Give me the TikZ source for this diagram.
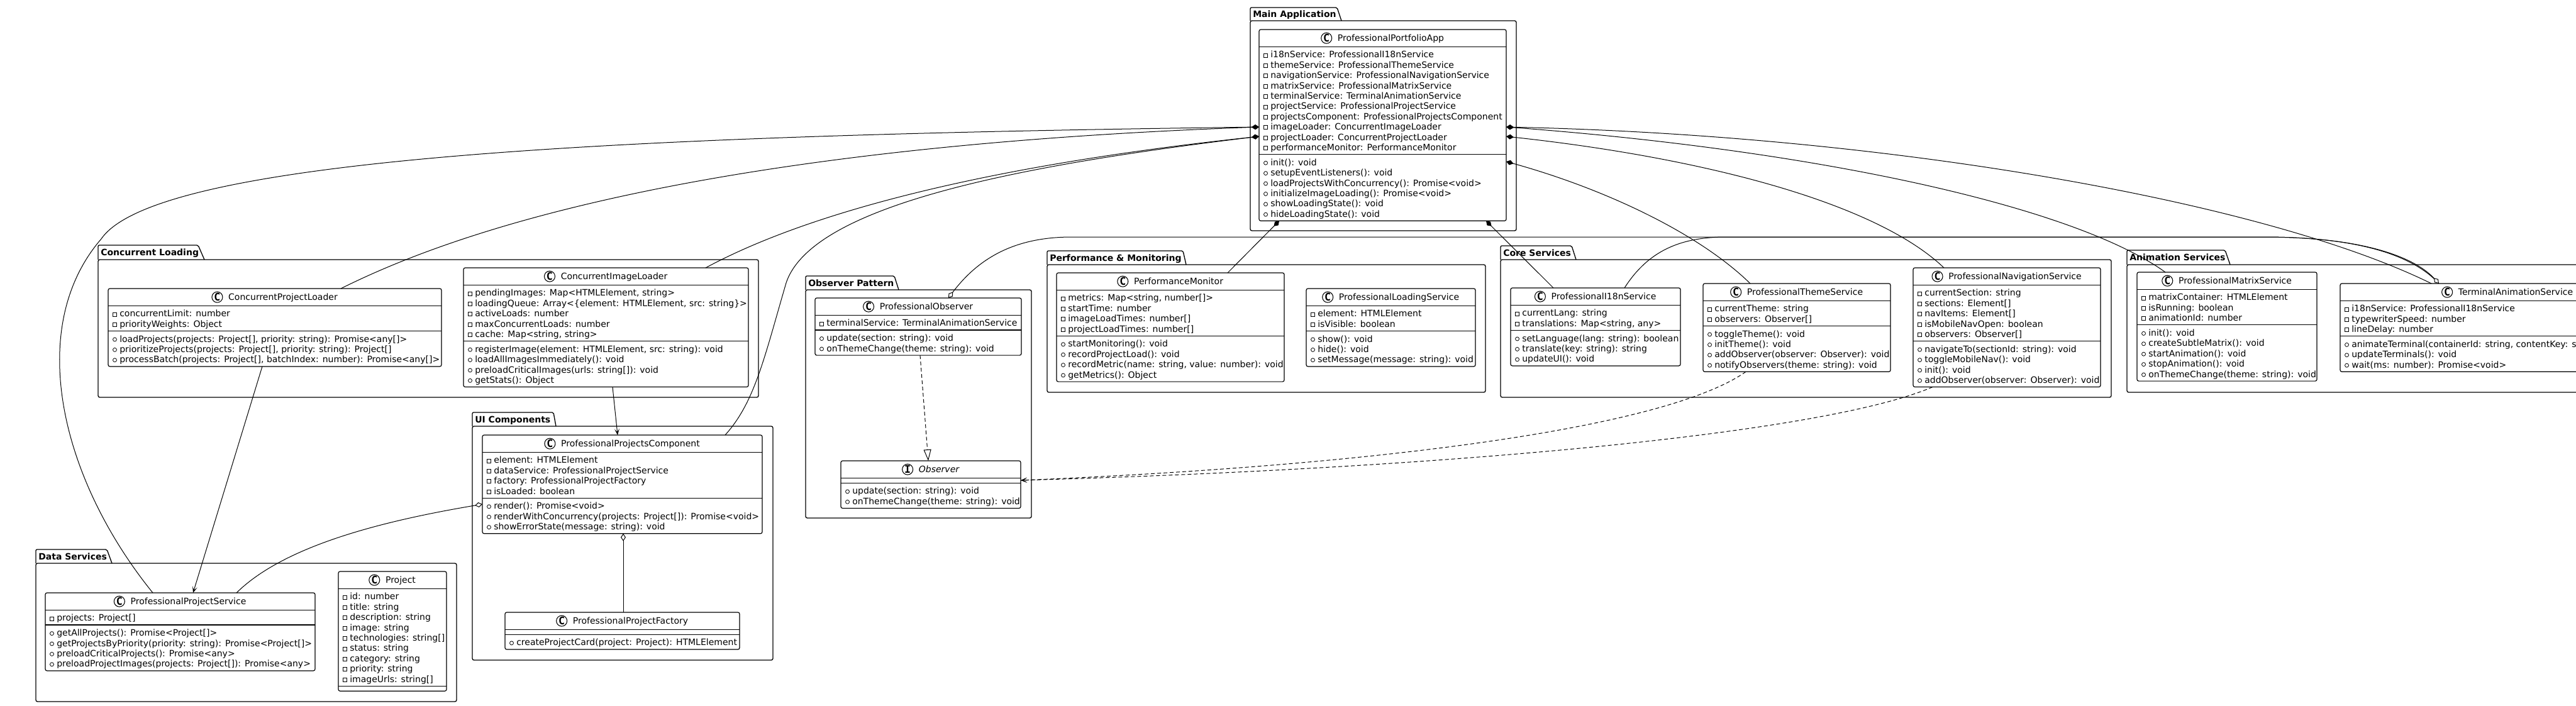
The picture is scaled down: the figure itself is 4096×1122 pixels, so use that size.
\documentclass[tikz,border=0pt]{standalone}
\usepackage{fontspec}
\setmainfont{DejaVu Sans}
\newfontfamily\circfont{DejaVu Sans Mono}
\usetikzlibrary{arrows.meta,calc}
\tikzset{
  clsbox/.style={draw, line width=0.9pt, rounded corners=2pt, fill=white, inner sep=0pt, outer sep=0pt},
  clsline/.style={line width=0.9pt},
  pkgbox/.style={draw, line width=1pt, rounded corners=2pt, inner sep=0pt, outer sep=0pt},
  pkgline/.style={line width=1pt, rounded corners=1.5pt},
  pkgtitle/.style={inner sep=0pt, anchor=base west, font=\bfseries\fontsize{10.5}{12}\selectfont},
  titletext/.style={inner sep=0pt, anchor=base, font=\fontsize{10.5}{12}\selectfont},
  rowtext/.style={inner sep=0pt, anchor=base west, font=\fontsize{10.5}{12}\selectfont},
  circ/.style={circle, draw, line width=0.8pt, fill=white, minimum size=12.75pt, inner sep=0pt, text height=9.1pt, text depth=0pt, font=\circfont\bfseries\fontsize{12.5}{12.5}\selectfont},
  icon/.style={line width=0.6pt},
  conn/.style={line width=0.75pt},
  comp/.style={conn, arrows={Diamond[length=9pt,width=6pt]-}},
  agg/.style={conn, arrows={Diamond[length=9pt,width=6pt,fill=white]-}},
  assoc/.style={conn, arrows={-Stealth[length=7.5pt,width=6pt,inset=4pt]}},
  dep/.style={conn, dash pattern=on 4.5pt off 3pt, arrows={-Stealth[length=7.5pt,width=6pt,inset=4pt]}},
  real/.style={conn, dash pattern=on 4.5pt off 3pt, arrows={-Triangle[length=13.5pt,width=9pt,fill=white]}},
}
% package: name, L, tabTop, tabRtop, tabRbot, bodyTop, R, B, title
\newcommand\umlpkg[9]{%
  \draw[pkgline] (#2,#6) -- (#2,#3) -- (#4,#3) -- (#5,#6);
  \pgfmathsetmacro\pkW{(#7-#2)*0.75}%
  \pgfmathsetmacro\pkH{(#8-#6)*0.75}%
  \node[pkgbox, minimum width=\pkW pt, minimum height=\pkH pt, anchor=north west] (#1) at (#2,#6) {};
  \node[pkgtitle] (#1-t) at (#2+4,{(#3+#6)/2+5}) {#9};
}
% class: name, L, T, R, nA, nM, letter, title
\newcommand\umlcls[8]{%
  \pgfmathsetmacro\cbA{#5==0 ? 8 : 7.3+16.4*#5}%
  \pgfmathsetmacro\cbM{#6==0 ? 8 : 7.3+16.4*#6}%
  \pgfmathsetmacro\cbH{(27.3+\cbA+\cbM)*0.75}%
  \pgfmathsetmacro\cbW{(#4-#2)*0.75}%
  \node[clsbox, minimum width=\cbW pt, minimum height=\cbH pt, anchor=north west] (#1) at (#2,#3) {};
  \pgfmathsetmacro\cbHy{#3+27.3}%
  \pgfmathsetmacro\cbSy{#3+27.3+\cbA}%
  \draw[clsline] (#2,\cbHy) -- (#4,\cbHy);
  \draw[clsline] (#2,\cbSy) -- (#4,\cbSy);
  \node[titletext] (#1-t) at ({(#2+#4)/2+13},{#3+13.65+5}) {#8};
  \node[circ] (#1-c) at ($(#1-t.base west)+(-17.5,-5)$) {#7};
}
% attributes: name, L, T, list
\newcommand\umlattrs[4]{%
  \foreach \t [count=\i from 0] in {#4} {%
    \pgfmathsetmacro\ry{#3+27.3+12.6+16.4*\i}%
    \draw[icon] (#2+7.5,\ry-2) rectangle (#2+13.5,\ry+4);
    \node[rowtext] (#1-a\i) at (#2+18,\ry+5) {\t};
  }%
}
% methods: name, L, T, nA, list
\newcommand\umlmeths[5]{%
  \pgfmathsetmacro\mstart{#3+27.3+(#4==0 ? 8 : 7.3+16.4*#4)}%
  \foreach \t [count=\i from 0] in {#5} {%
    \pgfmathsetmacro\ry{\mstart+12.6+16.4*\i}%
    \draw[icon] (#2+10.5,\ry+1) circle[radius=3];
    \node[rowtext] (#1-m\i) at (#2+18,\ry+5) {\t};
  }%
}
\begin{document}
\begin{tikzpicture}[x=0.75pt, y=-0.75pt]
\useasboundingbox (0,0) rectangle (4096,1122);
\fill[white] (0,0) rectangle (4096,1122);
\clip (0,0) rectangle (4096,1122);

% ---------- packages ----------
\umlpkg{pmain}{1988}{12}{2126}{2133}{33}{2411}{367}{Main Application}
\umlpkg{pconc}{156}{390}{315}{325}{413}{1206}{632}{Concurrent Loading}
\umlpkg{pdata}{57}{874}{170}{178}{896}{726}{1116}{Data Services}
\umlpkg{pui}{751}{656}{880}{884}{678}{1229}{1050}{UI Components}
\umlpkg{pobs}{1281}{439}{1422}{1429}{461}{1640}{824}{Observer Pattern}
\umlpkg{pperf}{1665}{399}{1881}{1886}{421}{2362}{624}{Performance \& Monitoring}
\umlpkg{pcore}{2386}{391}{2499}{2506}{413}{3357}{632}{Core Services}
\umlpkg{panim}{3382}{398}{3538}{3546}{421}{4270}{624}{Animation Services}

% ---------- classes ----------
\umlcls{app}{2002}{47}{2395}{10}{6}{C}{ProfessionalPortfolioApp}
\umlattrs{app}{2002}{47}{{i18nService: ProfessionalI18nService},{themeService: ProfessionalThemeService},{navigationService: ProfessionalNavigationService},{matrixService: ProfessionalMatrixService},{terminalService: TerminalAnimationService},{projectService: ProfessionalProjectService},{projectsComponent: ProfessionalProjectsComponent},{imageLoader: ConcurrentImageLoader},{projectLoader: ConcurrentProjectLoader},{performanceMonitor: PerformanceMonitor}}
\umlmeths{app}{2002}{47}{10}{{init(): void},{setupEventListeners(): void},{loadProjectsWithConcurrency(): Promise<void>},{initializeImageLoading(): Promise<void>},{showLoadingState(): void},{hideLoadingState(): void}}

\umlcls{plo}{172}{459}{702}{2}{3}{C}{ConcurrentProjectLoader}
\umlattrs{plo}{172}{459}{{concurrentLimit: number},{priorityWeights: Object}}
\umlmeths{plo}{172}{459}{2}{{loadProjects(projects: Project[], priority: string): Promise<any[]>},{prioritizeProjects(projects: Project[], priority: string): Project[]},{processBatch(projects: Project[], batchIndex: number): Promise<any[]>}}

\umlcls{ilo}{737}{426}{1190}{5}{4}{C}{ConcurrentImageLoader}
\umlattrs{ilo}{737}{426}{{pendingImages: Map<HTMLElement, string>},{loadingQueue: Array<\{element: HTMLElement, src: string\}>},{activeLoads: number},{maxConcurrentLoads: number},{cache: Map<string, string>}}
\umlmeths{ilo}{737}{426}{5}{{registerImage(element: HTMLElement, src: string): void},{loadAllImagesImmediately(): void},{preloadCriticalImages(urls: string[]): void},{getStats(): Object}}

\umlcls{pps}{72}{943}{501}{1}{4}{C}{ProfessionalProjectService}
\umlattrs{pps}{72}{943}{{projects: Project[]}}
\umlmeths{pps}{72}{943}{1}{{getAllProjects(): Promise<Project[]>},{getProjectsByPriority(priority: string): Promise<Project[]>},{preloadCriticalProjects(): Promise<any>},{preloadProjectImages(projects: Project[]): Promise<any>}}

\umlcls{proj}{538}{909}{710}{9}{0}{C}{Project}
\umlattrs{proj}{538}{909}{{id: number},{title: string},{description: string},{image: string},{technologies: string[]},{status: string},{category: string},{priority: string},{imageUrls: string[]}}

\umlcls{ppc}{767}{692}{1212}{4}{3}{C}{ProfessionalProjectsComponent}
\umlattrs{ppc}{767}{692}{{element: HTMLElement},{dataService: ProfessionalProjectService},{factory: ProfessionalProjectFactory},{isLoaded: boolean}}
\umlmeths{ppc}{767}{692}{4}{{render(): Promise<void>},{renderWithConcurrency(projects: Project[]): Promise<void>},{showErrorState(message: string): void}}

\umlcls{ppf}{803}{974}{1176}{0}{1}{C}{ProfessionalProjectFactory}
\umlmeths{ppf}{803}{974}{0}{{createProjectCard(project: Project): HTMLElement}}

\umlcls{pob}{1296}{474}{1624}{1}{2}{C}{ProfessionalObserver}
\umlattrs{pob}{1296}{474}{{terminalService: TerminalAnimationService}}
\umlmeths{pob}{1296}{474}{1}{{update(section: string): void},{onThemeChange(theme: string): void}}

\umlcls{obs}{1337}{733}{1623}{0}{2}{I}{\itshape Observer}
\umlmeths{obs}{1337}{733}{0}{{update(section: string): void},{onThemeChange(theme: string): void}}

\umlcls{pm}{1680}{434}{2042}{4}{4}{C}{PerformanceMonitor}
\umlattrs{pm}{1680}{434}{{metrics: Map<string, number[]>},{startTime: number},{imageLoadTimes: number[]},{projectLoadTimes: number[]}}
\umlmeths{pm}{1680}{434}{4}{{startMonitoring(): void},{recordProjectLoad(): void},{recordMetric(name: string, value: number): void},{getMetrics(): Object}}

\umlcls{pls}{2077}{459}{2346}{2}{3}{C}{ProfessionalLoadingService}
\umlattrs{pls}{2077}{459}{{element: HTMLElement},{isVisible: boolean}}
\umlmeths{pls}{2077}{459}{2}{{show(): void},{hide(): void},{setMessage(message: string): void}}

\umlcls{i18n}{2402}{458}{2672}{2}{3}{C}{ProfessionalI18nService}
\umlattrs{i18n}{2402}{458}{{currentLang: string},{translations: Map<string, any>}}
\umlmeths{i18n}{2402}{458}{2}{{setLanguage(lang: string): boolean},{translate(key: string): string},{updateUI(): void}}

\umlcls{theme}{2708}{451}{3006}{2}{4}{C}{ProfessionalThemeService}
\umlattrs{theme}{2708}{451}{{currentTheme: string},{observers: Observer[]}}
\umlmeths{theme}{2708}{451}{2}{{toggleTheme(): void},{initTheme(): void},{addObserver(observer: Observer): void},{notifyObservers(theme: string): void}}

\umlcls{nav}{3042}{426}{3340}{5}{4}{C}{ProfessionalNavigationService}
\umlattrs{nav}{3042}{426}{{currentSection: string},{sections: Element[]},{navItems: Element[]},{isMobileNavOpen: boolean},{observers: Observer[]}}
\umlmeths{nav}{3042}{426}{5}{{navigateTo(sectionId: string): void},{toggleMobileNav(): void},{init(): void},{addObserver(observer: Observer): void}}

\umlcls{matrix}{3398}{433}{3684}{3}{5}{C}{ProfessionalMatrixService}
\umlattrs{matrix}{3398}{433}{{matrixContainer: HTMLElement},{isRunning: boolean},{animationId: number}}
\umlmeths{matrix}{3398}{433}{3}{{init(): void},{createSubtleMatrix(): void},{startAnimation(): void},{stopAnimation(): void},{onThemeChange(theme: string): void}}

\umlcls{term}{3721}{451}{4253}{3}{3}{C}{TerminalAnimationService}
\umlattrs{term}{3721}{451}{{i18nService: ProfessionalI18nService},{typewriterSpeed: number},{lineDelay: number}}
\umlmeths{term}{3721}{451}{3}{{animateTerminal(containerId: string, contentKey: string): Promise<void>},{updateTerminals(): void},{wait(ms: number): Promise<void>}}

% ---------- connectors ----------
% compositions from ProfessionalPortfolioApp
\draw[comp] ($(app.north west)+(0,155)$) .. controls (1000,215) and (250,250) .. (161,380) .. controls (40,520) and (95,760) .. ($(pps.north west)+(171,0)$);
\draw[comp] ($(app.north west)+(0,155)$) .. controls (1500,220) and (900,280) .. ($(plo.north west)+(370,0)$);
\draw[comp] ($(app.north west)+(0,170)$) .. controls (1600,260) and (1300,330) .. ($(ilo.north west)+(385,0)$);
\draw[comp] ($(app.north west)+(0,170)$) .. controls (1600,265) and (1290,330) .. (1250,450) .. controls (1215,570) and (1200,640) .. ($(ppc.north west)+(386,0)$);
\draw[comp] ($(app.north east)+(0,155)$) .. controls (3000,215) and (3600,320) .. ($(term.north west)+(145,0)$);
\draw[comp] ($(app.north east)+(0,155)$) .. controls (2900,240) and (3300,330) .. ($(matrix.north west)+(45,0)$);
\draw[comp] ($(app.north east)+(0,170)$) .. controls (2700,250) and (2980,320) .. ($(nav.north west)+(49,0)$);
\draw[comp] ($(app.north east)+(0,210)$) .. controls (2550,300) and (2700,370) .. ($(theme.north west)+(75,0)$);
\draw[comp] ($(app.south west)+(32,0)$) -- ($(pm.north west)+(272,0)$);
\draw[comp] ($(app.south east)+(-32,0)$) -- ($(i18n.north west)+(68,0)$);

% loaders
\draw[assoc] ($(plo.south west)+(245,0)$) -- ($(pps.north west)+(235,0)$);
\draw[assoc] ($(ilo.south west)+(237,0)$) -- ($(ppc.north west)+(215,0)$);

% UI components
\draw[agg] ($(ppc.north west)+(0,110)$) .. controls (600,830) and (450,870) .. ($(pps.north west)+(304,0)$);
\draw[agg] ($(ppc.south west)+(224,0)$) -- ($(ppf.north west)+(188,0)$);

% observer pattern
\draw[real] ($(pob.south west)+(167,0)$) -- ($(obs.north west)+(139,0)$);
\draw[dep] ($(theme.south west)+(68,0)$) .. controls (2650,680) and (2200,740) .. ($(obs.north east)+(0,31)$);
\draw[dep] ($(nav.south west)+(31,0)$) .. controls (2900,690) and (2300,745) .. ($(obs.north east)+(0,31)$);

% aggregations with TerminalAnimationService
\draw[agg] ($(pob.north west)+(212,0)$) .. controls (1560,405) and (1620,378) .. (1700,377) -- (3600,377) .. controls (3760,377) and (3840,410) .. ($(term.north west)+(157,0)$);
\draw[agg] ($(term.north west)+(157,0)$) .. controls (3840,410) and (3760,377) .. (3600,377) -- (2740,377) .. controls (2670,378) and (2620,400) .. ($(i18n.north west)+(181,0)$);
\end{tikzpicture}
\end{document}
